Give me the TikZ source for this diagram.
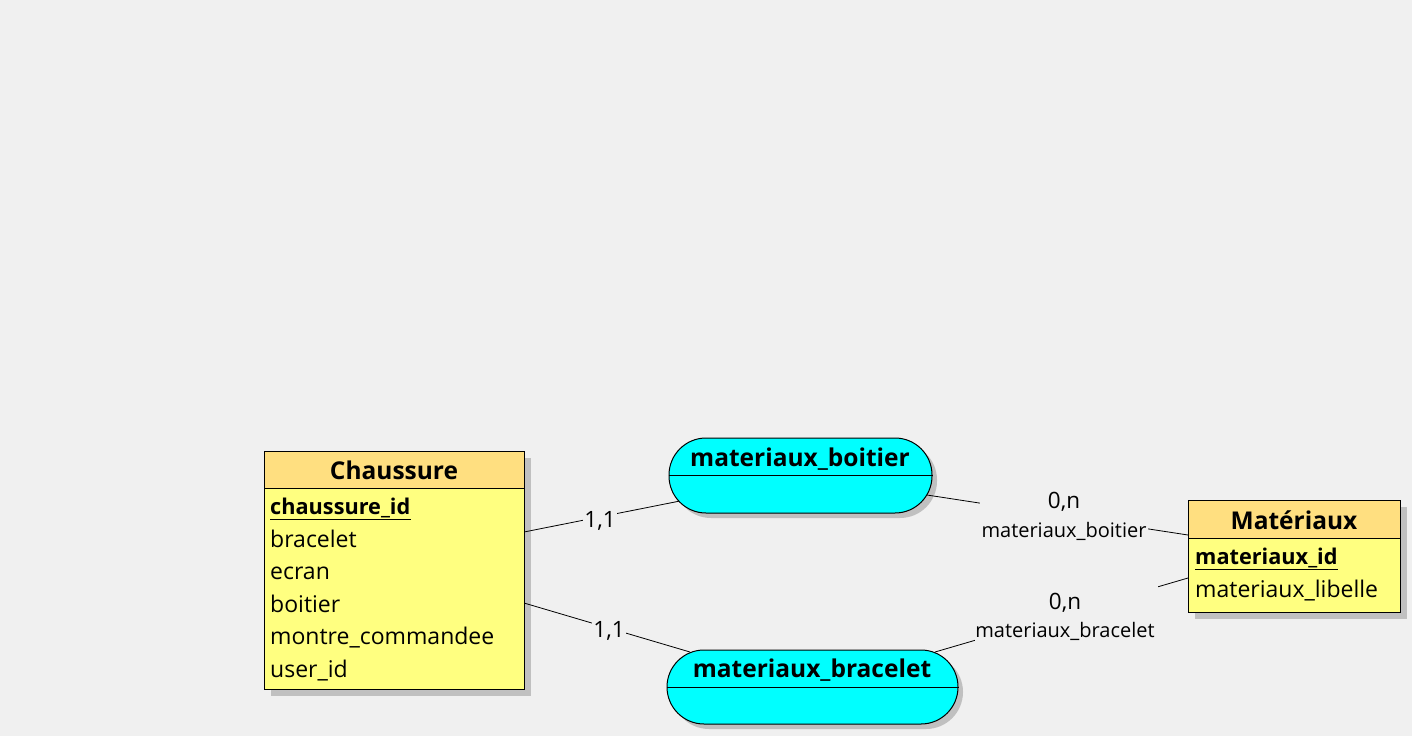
\documentclass[tikz,border=0pt]{standalone}
\usepackage{fontspec}
\setmainfont{Open Sans}
\definecolor{bgc}{HTML}{F0F0F0}
\definecolor{entbody}{HTML}{FFFF80}
\definecolor{enthead}{HTML}{FFDF80}
\definecolor{assoc}{HTML}{00FFFF}
\definecolor{shadowc}{HTML}{C0C0C0}
\tikzset{
  ent/.style={draw=black, line width=1pt, fill=entbody, anchor=north west, inner sep=0pt},
  enth/.style={draw=black, line width=1pt, fill=enthead, anchor=north west, inner sep=0pt},
  pill/.style={draw=black, line width=1pt, fill=assoc, inner sep=0pt, rounded corners=37pt},
  ttl/.style={font=\fontsize{24.5}{24.5}\selectfont\bfseries, anchor=base, inner sep=0pt},
  attr/.style={font=\fontsize{23}{23}\selectfont, anchor=base west, inner sep=0pt},
  attrk/.style={font=\fontsize{21.7}{21.7}\selectfont\bfseries, anchor=base west, inner sep=0pt},
  card/.style={font=\fontsize{22.5}{22.5}\selectfont, anchor=base, fill=bgc, inner xsep=1.5pt, inner ysep=3pt},
  cardr/.style={font=\fontsize{22.5}{22.5}\selectfont, anchor=base, inner sep=0pt},
  role/.style={font=\fontsize{20}{20}\selectfont, anchor=base, inner sep=0pt},
  link/.style={draw=black, line width=0.8pt},
}
\begin{document}
\begin{tikzpicture}[x=1pt,y=-1pt]
\fill[bgc] (0,0) rectangle (1412,736);
\useasboundingbox (0,0) rectangle (1412,736);

% ---------- shadows ----------
\fill[shadowc] (271,458) rectangle (531,696);
\fill[shadowc] (1195,507) rectangle (1407,619);
\fill[shadowc, rounded corners=37pt] (674,443) rectangle (937,518);
\fill[shadowc, rounded corners=37pt] (672,655) rectangle (963,729);

% ---------- connectors ----------
\coordinate (c1a) at (524,532);
\coordinate (c1b) at (680,501);
\coordinate (c2a) at (524,603);
\coordinate (c2b) at (690,652);
\coordinate (c3a) at (927,495);
\coordinate (c3b) at (1188,535);
\coordinate (c4a) at (935,652);
\coordinate (c4b) at (1188,578);
\draw[link] (c1a) -- (c1b);
\draw[link] (c2a) -- (c2b);
\draw[link] (c3a) -- (c3b);
\draw[link] (c4a) -- (c4b);
\fill[bgc] (980,486) rectangle (1148,543);
\fill[bgc] (975,586) rectangle (1158,644);

\node[card] (k1) at (600,527.5) {1,1};
\node[card] (k2) at (609,637.5) {1,1};
\node[cardr] (k3) at (1064,508) {0,n};
\node[role] (r3) at (1064,537.5) {materiaux\_boitier};
\node[cardr] (k4) at (1065,609) {0,n};
\node[role] (r4) at (1065,637.5) {materiaux\_bracelet};

% ---------- Chaussure ----------
\node[ent, minimum width=260pt, minimum height=238pt] (chaussure) at (264,451) {};
\node[enth, minimum width=260pt, minimum height=37pt] (chaussureh) at (264,451) {};
\node[ttl] (chaussuret) at (394,479.3) {Chaussure};
\node[attrk] (a1) at (270,514) {chaussure\_id};
\draw[line width=1pt] (a1.base west) ++(0,5.5) coordinate (u1a) -- (a1.base east |- u1a);
\node[attr] (a2) at (270,547) {bracelet};
\node[attr] (a3) at (270,579.6) {ecran};
\node[attr] (a4) at (270,612.2) {boitier};
\node[attr] (a5) at (270,644.8) {montre\_commandee};
\node[attr] (a6) at (270,677.4) {user\_id};

% ---------- Materiaux ----------
\node[ent, minimum width=212pt, minimum height=112pt] (mat) at (1188,500) {};
\node[enth, minimum width=212pt, minimum height=38pt] (math) at (1188,500) {};
\node[ttl] (matt) at (1294,529.3) {Matériaux};
\node[attrk] (b1) at (1195,564) {materiaux\_id};
\draw[line width=1pt] (b1.base west) ++(0,5.5) coordinate (u2a) -- (b1.base east |- u2a);
\node[attr] (b2) at (1195,597) {materiaux\_libelle};

% ---------- associations ----------
\node[pill, minimum width=263pt, minimum height=75pt] (boitier) at (800.5,475.5) {};
\draw[line width=1pt] (boitier.west) -- (boitier.east);
\node[ttl] (boitiert) at (800,466) {materiaux\_boitier};

\node[pill, minimum width=291pt, minimum height=74pt] (bracelet) at (812.5,687) {};
\draw[line width=1pt] (bracelet.west) -- (bracelet.east);
\node[ttl] (bracelett) at (812,677.5) {materiaux\_bracelet};
\end{tikzpicture}
\end{document}
